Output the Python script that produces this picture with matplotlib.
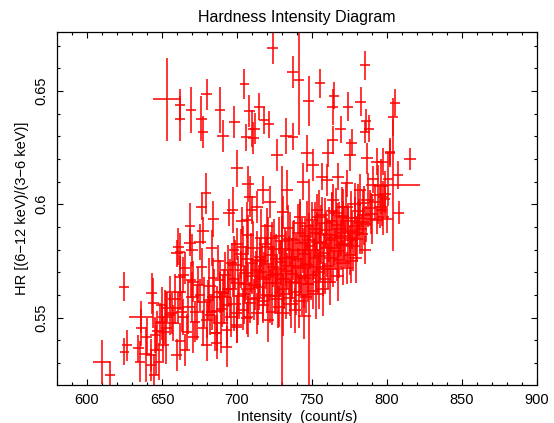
import matplotlib
matplotlib.use("Agg")
import matplotlib.pyplot as plt
from matplotlib.ticker import MultipleLocator
import numpy as np

plt.rcParams["font.family"] = ["Liberation Sans", "DejaVu Sans"]

# (intensity, HR, intensity error, HR error)
# sparse points above the main band
sparse_top = [
    (653.1, 0.6462, 9.0, 0.0184), (662.0, 0.6438, 3.5, 0.0070), (662.0, 0.6377, 3.5, 0.0100),
    (669.5, 0.6416, 3.5, 0.0100), (679.8, 0.6484, 3.5, 0.0070), (676.2, 0.6377, 3.5, 0.0100),
    (677.5, 0.6317, 3.5, 0.0070), (688.7, 0.6416, 3.5, 0.0100), (690.5, 0.6302, 4.0, 0.0070),
    (698.2, 0.6364, 3.5, 0.0070), (704.7, 0.6530, 3.0, 0.0065), (708.2, 0.6411, 3.5, 0.0070),
    (706.0, 0.6296, 3.5, 0.0060), (709.8, 0.6334, 2.5, 0.0080), (723.8, 0.6689, 3.5, 0.0070),
    (737.1, 0.6584, 3.5, 0.0070), (741.5, 0.6547, 3.5, 0.0240), (755.5, 0.6533, 3.5, 0.0065),
    (785.3, 0.6613, 3.5, 0.0065), (747.8, 0.6456, 3.5, 0.0110), (764.7, 0.6478, 3.5, 0.0060),
    (763.8, 0.6430, 3.5, 0.0080), (774.2, 0.6430, 3.5, 0.0065), (782.5, 0.6452, 3.5, 0.0065),
    (805.3, 0.6447, 3.5, 0.0060), (804.2, 0.6385, 3.5, 0.0085), (786.0, 0.6368, 3.5, 0.0050),
    (788.0, 0.6334, 3.5, 0.0060), (785.3, 0.6319, 3.5, 0.0050), (769.1, 0.6330, 3.5, 0.0060),
    (714.9, 0.6430, 3.5, 0.0060), (718.0, 0.6371, 3.5, 0.0060), (721.5, 0.6353, 3.5, 0.0060),
    (712.0, 0.6334, 3.5, 0.0070), (710.9, 0.6293, 3.5, 0.0070), (732.7, 0.6302, 4.0, 0.0080),
    (737.5, 0.6297, 3.5, 0.0060), (763.8, 0.6283, 3.5, 0.0060), (776.5, 0.6271, 3.5, 0.0060),
    (815.3, 0.6198, 3.9, 0.0048),
]

# upper edge of the band, 0.575 - 0.625
upper_band = [
    (726.4, 0.6217, 4.0, 0.007), (746.4, 0.6224, 4.0, 0.008), (750.9, 0.6173, 4.0, 0.007),
    (760.9, 0.6224, 4.0, 0.006), (775.3, 0.6217, 4.0, 0.007), (786.5, 0.6202, 4.0, 0.007),
    (793.1, 0.6187, 4.0, 0.006), (802.0, 0.6224, 3.5, 0.006), (800.9, 0.6110, 3.5, 0.012),
    (790.9, 0.6110, 4.0, 0.006), (804.2, 0.6085, 18.0, 0.029), (717.5, 0.6063, 4.0, 0.006),
    (722.0, 0.6011, 4.0, 0.007), (733.1, 0.6063, 4.0, 0.009), (744.2, 0.6100, 4.0, 0.008),
    (756.4, 0.6121, 4.0, 0.006), (759.8, 0.6107, 4.0, 0.007), (767.5, 0.6121, 4.0, 0.006),
    (773.1, 0.6092, 4.0, 0.006), (782.0, 0.6063, 4.0, 0.007), (784.2, 0.6004, 4.0, 0.006),
    (788.7, 0.5982, 4.0, 0.008), (793.1, 0.5930, 4.0, 0.006), (784.2, 0.5923, 4.0, 0.006),
    (779.8, 0.5871, 4.0, 0.006), (785.3, 0.5798, 4.0, 0.006), (807.8, 0.5963, 3.5, 0.005),
    (797.5, 0.5945, 4.0, 0.008), (775.3, 0.5842, 4.0, 0.006), (770.9, 0.5945, 4.0, 0.007),
    (764.2, 0.6019, 4.0, 0.007), (753.1, 0.5975, 4.0, 0.007), (742.0, 0.5945, 4.0, 0.008),
    (730.9, 0.5967, 4.0, 0.007), (713.1, 0.5989, 4.0, 0.007), (699.8, 0.6158, 4.0, 0.008),
    (679.3, 0.6048, 3.5, 0.009), (676.5, 0.5989, 3.5, 0.006), (684.2, 0.5935, 3.5, 0.008),
    (668.7, 0.5904, 3.5, 0.010), (677.5, 0.5883, 4.0, 0.006), (697.1, 0.5975, 3.5, 0.010),
    (694.7, 0.5963, 4.0, 0.006), (703.1, 0.5928, 4.0, 0.006), (660.9, 0.5813, 3.5, 0.008),
    (659.8, 0.5784, 4.0, 0.006), (668.7, 0.5830, 4.0, 0.006), (669.8, 0.5798, 4.0, 0.007),
    (683.1, 0.5806, 3.5, 0.008), (675.3, 0.5832, 4.0, 0.008), (687.1, 0.5750, 4.0, 0.007),
    (699.8, 0.5823, 4.0, 0.007), (698.0, 0.5798, 3.5, 0.006), (707.5, 0.6089, 4.0, 0.008),
    (708.7, 0.6034, 4.0, 0.009), (707.5, 0.5864, 4.0, 0.009), (709.8, 0.5975, 3.5, 0.006),
    (802.0, 0.6231, 3.5, 0.006), (797.5, 0.6187, 3.5, 0.006), (807.5, 0.6129, 3.5, 0.006),
    (797.5, 0.6034, 3.5, 0.007), (798.7, 0.6023, 3.5, 0.006), (799.8, 0.5934, 4.0, 0.006),
    (796.5, 0.5975, 3.5, 0.007), (706.5, 0.5930, 4.0, 0.008), (719.8, 0.5902, 4.0, 0.008),
    (723.1, 0.5850, 4.0, 0.007), (704.2, 0.5813, 4.0, 0.009),
]

# low-intensity tail of the band
low_tail = [
    (624.9, 0.5637, 3.3, 0.0062), (609.8, 0.5302, 5.6, 0.0097), (615.3, 0.5248, 3.5, 0.0060),
    (626.5, 0.5377, 3.5, 0.0070), (624.9, 0.5350, 3.0, 0.0060), (636.0, 0.5456, 3.5, 0.0080),
    (636.0, 0.5504, 7.8, 0.0070), (635.3, 0.5306, 3.5, 0.0090), (642.7, 0.5292, 3.5, 0.0070),
    (644.7, 0.5248, 3.5, 0.0090), (644.2, 0.5563, 3.5, 0.0110), (634.2, 0.5364, 3.5, 0.0060),
    (642.7, 0.5336, 3.5, 0.0070), (639.8, 0.5416, 3.5, 0.0080), (646.9, 0.5441, 3.5, 0.0090),
    (650.9, 0.5380, 3.5, 0.0070), (648.0, 0.5306, 3.5, 0.0080), (652.9, 0.5455, 3.5, 0.0160),
    (649.8, 0.5482, 3.5, 0.0080), (655.3, 0.5512, 3.5, 0.0090), (659.8, 0.5336, 3.5, 0.0070),
    (662.0, 0.5395, 3.5, 0.0080), (665.3, 0.5358, 3.5, 0.0070), (663.1, 0.5526, 3.5, 0.0090),
    (666.5, 0.5438, 3.5, 0.0080), (670.9, 0.5416, 3.5, 0.0070), (662.0, 0.5614, 4.0, 0.0080),
    (670.9, 0.5659, 3.5, 0.0090), (664.2, 0.5688, 3.5, 0.0080), (672.0, 0.5482, 3.5, 0.0090),
    (677.5, 0.5453, 3.5, 0.0080), (679.8, 0.5380, 3.5, 0.0070), (686.5, 0.5387, 3.5, 0.0070),
    (693.1, 0.5372, 3.5, 0.0090), (693.1, 0.5446, 3.5, 0.0080), (685.3, 0.5431, 3.5, 0.0080),
    (682.0, 0.5512, 3.5, 0.0090), (699.8, 0.5468, 3.5, 0.0080), (706.5, 0.5498, 3.5, 0.0070),
    (662.0, 0.5791, 3.5, 0.0080), (665.3, 0.5718, 3.5, 0.0070), (662.0, 0.5681, 3.5, 0.0090),
    (669.3, 0.5666, 3.5, 0.0080), (655.3, 0.5615, 3.5, 0.0070), (643.1, 0.5607, 3.5, 0.0090),
    (649.8, 0.5556, 3.5, 0.0080), (653.1, 0.5541, 3.5, 0.0070), (656.4, 0.5519, 3.5, 0.0090),
    (657.5, 0.5475, 3.5, 0.0080), (660.9, 0.5541, 3.5, 0.0070), (664.2, 0.5504, 3.5, 0.0080),
    (648.7, 0.5475, 3.5, 0.0090), (650.9, 0.5438, 3.5, 0.0070), (645.3, 0.5424, 3.5, 0.0080),
    (676.5, 0.5725, 3.5, 0.0080), (684.2, 0.5674, 3.5, 0.0090), (674.2, 0.5644, 3.5, 0.0080),
    (675.3, 0.5600, 3.5, 0.0070), (680.9, 0.5578, 3.5, 0.0090), (683.1, 0.5526, 3.5, 0.0080),
    (679.8, 0.5490, 3.5, 0.0080), (688.7, 0.5666, 3.5, 0.0090), (690.9, 0.5607, 3.5, 0.0080),
    (693.1, 0.5556, 3.5, 0.0070), (686.5, 0.5431, 3.5, 0.0080), (696.4, 0.5740, 3.5, 0.0090),
    (699.8, 0.5519, 3.5, 0.0080), (699.8, 0.5460, 3.5, 0.0070), (707.5, 0.5504, 3.5, 0.0090),
]

# dense core of the band
core = [
    (712.4, 0.5712, 4.0, 0.008), (714.8, 0.5634, 4.0, 0.010), (711.2, 0.5581, 4.0, 0.009),
    (716.9, 0.5748, 4.0, 0.007), (718.6, 0.5823, 4.0, 0.009), (721.3, 0.5652, 4.0, 0.008),
    (722.7, 0.5776, 4.0, 0.010), (725.5, 0.5597, 4.0, 0.008), (726.8, 0.5691, 4.0, 0.009),
    (727.9, 0.5862, 4.0, 0.008), (729.4, 0.5744, 4.0, 0.010), (730.6, 0.5627, 4.0, 0.007),
    (731.8, 0.5803, 4.0, 0.009), (733.5, 0.5706, 4.0, 0.008), (734.2, 0.5895, 4.0, 0.010),
    (735.8, 0.5658, 4.0, 0.009), (736.9, 0.5769, 4.0, 0.008), (738.3, 0.5841, 4.0, 0.009),
    (739.1, 0.5612, 4.0, 0.010), (740.5, 0.5727, 4.0, 0.008), (741.8, 0.5918, 4.0, 0.009),
    (742.7, 0.5683, 4.0, 0.008), (743.9, 0.5796, 4.0, 0.010), (745.4, 0.5861, 4.0, 0.008),
    (746.2, 0.5738, 4.0, 0.009), (747.6, 0.5649, 4.0, 0.008), (748.9, 0.5814, 4.0, 0.010),
    (750.3, 0.5932, 4.0, 0.008), (751.6, 0.5761, 4.0, 0.009), (752.8, 0.5874, 4.0, 0.008),
    (754.1, 0.5702, 4.0, 0.010), (755.7, 0.5829, 4.0, 0.009), (756.8, 0.5951, 4.0, 0.008),
    (758.2, 0.5783, 4.0, 0.009), (759.4, 0.5886, 4.0, 0.008), (760.9, 0.5727, 4.0, 0.010),
    (762.3, 0.5842, 4.0, 0.009), (763.7, 0.5968, 4.0, 0.008), (765.1, 0.5805, 4.0, 0.009),
    (766.4, 0.5907, 4.0, 0.010), (767.9, 0.5756, 4.0, 0.008), (769.2, 0.5861, 4.0, 0.009),
    (770.6, 0.5989, 4.0, 0.008), (772.1, 0.5823, 4.0, 0.010), (773.8, 0.5926, 4.0, 0.008),
    (775.2, 0.5778, 4.0, 0.009), (776.9, 0.5884, 4.0, 0.008), (778.4, 0.6002, 4.0, 0.009),
    (780.1, 0.5846, 4.0, 0.010), (781.7, 0.5941, 4.0, 0.008), (783.5, 0.5869, 4.0, 0.009),
    (786.2, 0.5912, 4.0, 0.008), (789.4, 0.5958, 4.0, 0.009), (792.3, 0.6011, 4.0, 0.008),
    (795.6, 0.5987, 4.0, 0.009), (798.9, 0.6046, 4.0, 0.010), (688.4, 0.5612, 4.0, 0.009),
    (690.2, 0.5538, 4.0, 0.008), (691.7, 0.5689, 4.0, 0.010), (694.3, 0.5627, 4.0, 0.008),
    (695.8, 0.5503, 4.0, 0.009), (697.4, 0.5671, 4.0, 0.008), (701.2, 0.5594, 4.0, 0.010),
    (702.6, 0.5712, 4.0, 0.008), (703.9, 0.5535, 4.0, 0.009), (705.3, 0.5648, 4.0, 0.008),
    (706.8, 0.5759, 4.0, 0.010), (708.9, 0.5566, 4.0, 0.009), (710.1, 0.5683, 4.0, 0.008),
    (713.6, 0.5519, 4.0, 0.009), (717.2, 0.5573, 4.0, 0.008), (720.4, 0.5491, 4.0, 0.010),
    (723.1, 0.5526, 4.0, 0.006), (735.3, 0.5586, 4.0, 0.008), (743.1, 0.5600, 4.0, 0.009),
    (746.0, 0.5590, 4.0, 0.007), (754.9, 0.5659, 4.0, 0.012), (764.2, 0.5715, 4.0, 0.008),
    (773.1, 0.5718, 4.0, 0.007), (728.3, 0.5548, 4.0, 0.009), (738.7, 0.5532, 4.0, 0.010),
    (750.5, 0.5618, 4.0, 0.008), (758.6, 0.5672, 4.0, 0.007), (717.5, 0.5556, 4.0, 0.008),
    (715.3, 0.5769, 4.0, 0.008), (724.2, 0.5725, 4.0, 0.009), (719.8, 0.5600, 4.0, 0.008),
    (717.5, 0.5681, 4.0, 0.009),
]

# second layer of the dense core, larger HR errors
core_dense = [
    (700.6, 0.5652, 4.5, 0.012), (702.9, 0.5781, 4.5, 0.011), (704.4, 0.5603, 4.5, 0.013),
    (705.9, 0.5697, 4.5, 0.012), (707.3, 0.5628, 4.5, 0.011), (709.6, 0.5742, 4.5, 0.013),
    (710.8, 0.5806, 4.5, 0.012), (711.7, 0.5643, 4.5, 0.011), (713.2, 0.5754, 4.5, 0.013),
    (714.1, 0.5587, 4.5, 0.012), (715.6, 0.5702, 4.5, 0.011), (716.2, 0.5851, 4.5, 0.013),
    (718.1, 0.5669, 4.5, 0.012), (719.3, 0.5738, 4.5, 0.011), (720.9, 0.5812, 4.5, 0.013),
    (721.8, 0.5594, 4.5, 0.012), (723.6, 0.5688, 4.5, 0.011), (724.9, 0.5804, 4.5, 0.013),
    (725.8, 0.5651, 4.5, 0.012), (726.3, 0.5759, 4.5, 0.011), (727.4, 0.5582, 4.5, 0.013),
    (728.8, 0.5713, 4.5, 0.012), (729.9, 0.5837, 4.5, 0.011), (731.2, 0.5669, 4.5, 0.013),
    (732.4, 0.5761, 4.5, 0.012), (733.0, 0.5604, 4.5, 0.011), (734.8, 0.5728, 4.5, 0.013),
    (735.4, 0.5846, 4.5, 0.012), (736.5, 0.5692, 4.5, 0.011), (737.6, 0.5797, 4.5, 0.013),
    (738.9, 0.5651, 4.5, 0.012), (739.7, 0.5758, 4.5, 0.011), (740.9, 0.5873, 4.5, 0.013),
    (742.2, 0.5718, 4.5, 0.012), (743.3, 0.5829, 4.5, 0.011), (744.6, 0.5674, 4.5, 0.013),
    (745.1, 0.5781, 4.5, 0.012), (746.8, 0.5903, 4.5, 0.011), (747.2, 0.5733, 4.5, 0.013),
    (748.3, 0.5842, 4.5, 0.012), (749.6, 0.5687, 4.5, 0.011), (750.8, 0.5796, 4.5, 0.013),
    (751.9, 0.5889, 4.5, 0.012), (752.4, 0.5724, 4.5, 0.011), (753.7, 0.5835, 4.5, 0.013),
    (754.6, 0.5943, 4.5, 0.012), (755.2, 0.5771, 4.5, 0.011), (756.3, 0.5868, 4.5, 0.013),
    (757.5, 0.5715, 4.5, 0.012), (758.8, 0.5917, 4.5, 0.011), (759.9, 0.5809, 4.5, 0.013),
    (761.4, 0.5866, 4.5, 0.012), (762.8, 0.5762, 4.5, 0.011), (763.1, 0.5924, 4.5, 0.013),
    (764.6, 0.5851, 4.5, 0.012), (765.8, 0.5963, 4.5, 0.011), (766.9, 0.5792, 4.5, 0.013),
    (768.3, 0.5889, 4.5, 0.012), (769.7, 0.5821, 4.5, 0.011), (770.2, 0.5946, 4.5, 0.013),
    (771.5, 0.5874, 4.5, 0.012), (772.8, 0.5987, 4.5, 0.011), (774.3, 0.5852, 4.5, 0.013),
    (775.9, 0.5938, 4.5, 0.012), (777.4, 0.5817, 4.5, 0.011), (778.9, 0.5902, 4.5, 0.013),
    (780.6, 0.5968, 4.5, 0.012), (782.3, 0.5889, 4.5, 0.011), (784.8, 0.5951, 4.5, 0.013),
    (787.1, 0.6018, 4.5, 0.012), (790.2, 0.5934, 4.5, 0.011), (793.8, 0.6042, 4.5, 0.013),
    (796.2, 0.6079, 4.5, 0.012), (691.3, 0.5593, 4.5, 0.012), (693.8, 0.5712, 4.5, 0.011),
    (695.2, 0.5628, 4.5, 0.013), (697.9, 0.5559, 4.5, 0.012), (698.6, 0.5734, 4.5, 0.011),
    (684.7, 0.5593, 4.5, 0.012), (686.9, 0.5528, 4.5, 0.011), (689.3, 0.5476, 4.5, 0.013),
    (681.6, 0.5641, 4.5, 0.012), (677.9, 0.5567, 4.5, 0.011), (673.4, 0.5523, 4.5, 0.012),
    (670.2, 0.5589, 4.5, 0.011), (667.6, 0.5547, 4.5, 0.012), (658.4, 0.5583, 4.5, 0.011),
    (652.1, 0.5502, 4.5, 0.012), (646.3, 0.5356, 4.5, 0.011), (639.1, 0.5338, 4.5, 0.012),
    (730.4, 0.5521, 4.5, 0.010), (736.1, 0.5562, 4.5, 0.011), (741.6, 0.5574, 4.5, 0.012),
    (744.9, 0.5506, 4.5, 0.010), (752.7, 0.5603, 4.5, 0.011), (757.1, 0.5627, 4.5, 0.012),
    (761.8, 0.5655, 4.5, 0.010), (767.2, 0.5684, 4.5, 0.011), (770.8, 0.5742, 4.5, 0.010),
    (776.3, 0.5751, 4.5, 0.010), (779.2, 0.5764, 4.5, 0.011),
]

# two points with very large HR errors
long_bars = [
    (730.2, 0.5670, 3.5, 0.0500),
    (747.8, 0.5650, 3.5, 0.0460),
]

fig = plt.figure(figsize=(5.54, 4.23), dpi=100)
ax = fig.add_axes([0.103, 0.09, 0.866, 0.834])

for group in [long_bars, low_tail, core_dense, core, upper_band, sparse_top]:
    x, y, xe, ye = np.array(group).T
    ax.errorbar(x, y, xerr=xe, yerr=ye, fmt="none", ecolor="red",
                elinewidth=1.4, alpha=0.8, capsize=0)

ax.set_xlim(580, 900)
ax.set_ylim(0.5203, 0.6759)
ax.xaxis.set_major_locator(MultipleLocator(50))
ax.xaxis.set_minor_locator(MultipleLocator(10))
ax.yaxis.set_minor_locator(MultipleLocator(0.01))
ax.set_yticks([0.55, 0.6, 0.65])
ax.set_yticklabels(["0.55", "0.6", "0.65"], rotation=90, va="center")
ax.tick_params(which="both", direction="in", top=True, right=True, labelsize=10.5, width=0.8)
ax.tick_params(which="major", length=4, pad=6)
ax.tick_params(which="minor", length=2)
for s in ax.spines.values():
    s.set_linewidth(0.9)

ax.set_title("Hardness Intensity Diagram", fontsize=11.5, pad=7)
ax.set_xlabel("Intensity  (count/s)", fontsize=10.5, labelpad=2)
ax.set_ylabel("HR [(6\u221212 keV)/(3\u22126 keV)]", fontsize=10.5, labelpad=4)

fig.savefig("out.png", dpi=100)
